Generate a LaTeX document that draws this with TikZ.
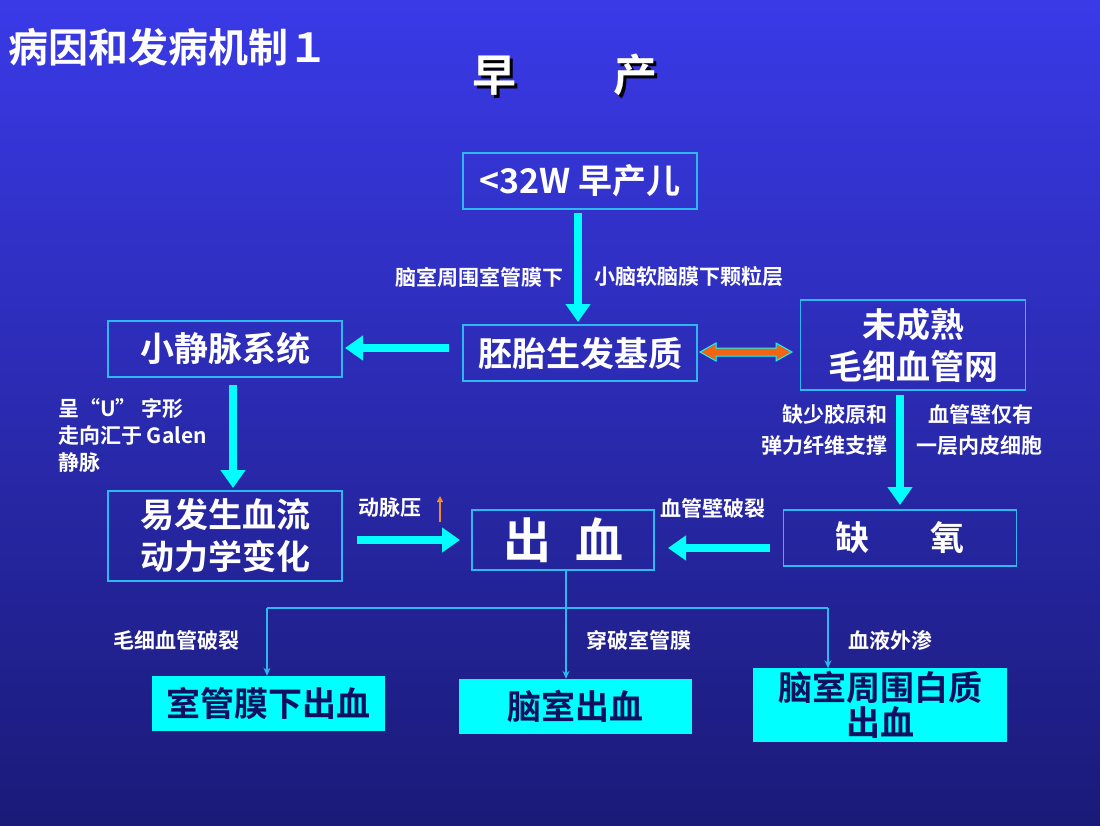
\documentclass[tikz,border=0pt]{standalone}
\usepackage{fontspec}
\setmainfont{Noto Sans CJK SC Bold}
\usetikzlibrary{arrows.meta}
\definecolor{cy}{HTML}{00FFFF}
\definecolor{bx}{HTML}{2EB8F0}
\definecolor{navy}{HTML}{101060}
\definecolor{bgtop}{RGB}{58,58,232}
\definecolor{bgbot}{RGB}{26,26,120}
\definecolor{orng}{RGB}{240,100,20}
\definecolor{orup}{RGB}{240,140,40}
\begin{document}
\begin{tikzpicture}[x=1pt,y=-1pt,
  box/.style={draw=bx,line width=1.2pt,text=white,inner sep=0pt},
  res/.style={fill=cy,draw=cy,text=navy,inner sep=0pt},
  fat/.style={cy,line width=8pt,-{Triangle[width=24pt,length=18pt]}},
  thin/.style={draw=bx,line width=2pt,-{Stealth[length=8pt,width=7pt]}},
  lab/.style={text=white,font=\fontsize{21}{24}\selectfont,align=left,inner sep=0pt},
  big/.style={font=\fontsize{34}{38}\selectfont,align=center}]
\shade[top color=bgtop,bottom color=bgbot] (0,0) rectangle (1100,825);
\useasboundingbox (0,0) rectangle (1100,825);
\node[anchor=west,text=white,font=\fontsize{40}{44}\selectfont,inner sep=0pt] (title) at (8,47) {病因和发病机制１};
\node[text=black,font=\fontsize{44}{48}\selectfont,inner sep=0pt] (zs) at (568,78) {早\hspace{2.2em}产};
\node[text=white,font=\fontsize{44}{48}\selectfont,inner sep=0pt] (zc) at (565,75) {早\hspace{2.2em}产};
\node[box,big,minimum width=234pt,minimum height=56pt] (a) at (580,181) {<32W 早产儿};
\node[box,big,minimum width=234pt,minimum height=56pt] (b) at (580,353) {胚胎生发基质};
\node[box,big,minimum width=234pt,minimum height=56pt] (c) at (225,349) {小静脉系统};
\node[box,big,minimum width=225pt,minimum height=90pt,font=\fontsize{34}{42}\selectfont] (d) at (913,345) {未成熟\\毛细血管网};
\node[box,big,minimum width=234pt,minimum height=90pt,font=\fontsize{34}{42}\selectfont] (e) at (225,536) {易发生血流\\动力学变化};
\node[box,minimum width=182pt,minimum height=60pt,font=\fontsize{48}{50}\selectfont] (f) at (563,540) {出\hspace{0.5em}血};
\node[box,big,minimum width=233pt,minimum height=56pt] (g) at (900,538) {缺\hspace{1.8em}氧};
\node[res,big,minimum width=232pt,minimum height=54pt] (h) at (268,703) {室管膜下出血};
\node[res,big,minimum width=232pt,minimum height=54pt] (i) at (575,706) {脑室出血};
\node[res,big,minimum width=253pt,minimum height=73pt,font=\fontsize{34}{35}\selectfont] (j) at (880,705) {脑室周围白质\\出血};
% arrows
\draw[fat] (a.south-|578,0) ++(0,3) -- (578,322);
\coordinate (bl) at (449,348); \coordinate (cr) at (345,348);
\draw[fat] (bl) -- (cr);
\draw[draw=cy,line width=1pt,fill=orng]
  (700,352) -- (716,343) -- (716,348) -- (776,348) -- (776,343) -- (792,352) -- (776,361) -- (776,356) -- (716,356) -- (716,361) -- cycle;
\draw[fat] (233,385) -- (233,488);
\draw[fat] (900,395) -- (900,505);
\draw[fat] (357,540) -- (460,540);
\draw[fat] (770,548) -- (668,548);
\coordinate (t0) at (566,608); \coordinate (tl) at (267,608); \coordinate (tr) at (828,608);
\draw[draw=bx,line width=2pt] (f.south-|566,0) -- (t0);
\draw[draw=bx,line width=2pt] (tl) -- (tr);
\draw[thin] (tl) -- (h.north-|267,0);
\draw[thin] (t0) -- (i.north-|566,0);
\draw[thin] (tr) -- (j.north-|828,0);
% labels
\node[lab,anchor=east] (l1) at (564,277) {脑室周围室管膜下};
\node[lab,anchor=west] (l2) at (594,277) {小脑软脑膜下颗粒层};
\node[lab,anchor=north west,font=\fontsize{21}{27}\selectfont] (l3) at (58,398) {呈“U” 字形\\走向汇于 Galen\\静脉};
\node[lab,anchor=north east,align=right,font=\fontsize{21}{31}\selectfont] (l4) at (888,404) {缺少胶原和\\弹力纤维支撑};
\node[lab,anchor=north west,font=\fontsize{21}{31}\selectfont] (l5) at (916,404) {\hspace{0.6em}血管壁仅有\\一层内皮细胞};
\node[lab,anchor=west] (dm) at (358,508) {动脉压};
\coordinate (u0) at (440,522); \coordinate (u1) at (440,496);
\draw[orup,line width=1.8pt,-{Triangle[length=6pt,width=6pt]}] (u0) -- (u1);
\node[lab,anchor=west] (l6) at (660,508) {血管壁破裂};
\node[lab,anchor=west] (l7) at (113,640) {毛细血管破裂};
\node[lab,anchor=west] (l8) at (586,640) {穿破室管膜};
\node[lab,anchor=west] (l9) at (848,640) {血液外渗};
\end{tikzpicture}
\end{document}
